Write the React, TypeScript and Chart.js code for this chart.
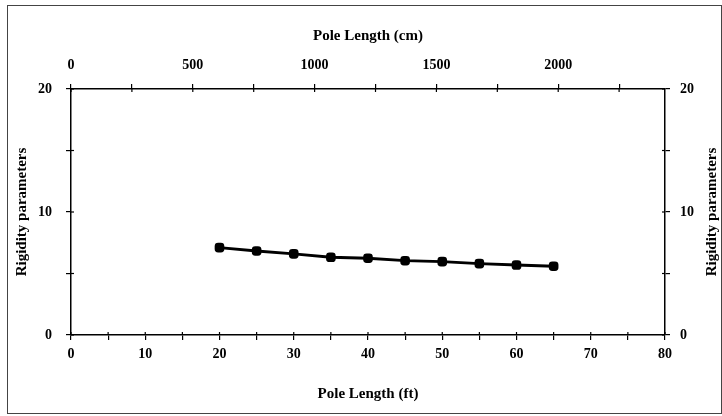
import React, { useEffect, useRef } from "react";
import { Chart, registerables } from "chart.js";

Chart.register(...registerables);

const poleLengthFt = [20, 25, 30, 35, 40, 45, 50, 55, 60, 65];
const rigidity = [7.1, 6.83, 6.59, 6.32, 6.24, 6.04, 5.96, 5.8, 5.69, 5.59];
const cmTicks = [0, 250, 500, 750, 1000, 1250, 1500, 1750, 2000, 2250];
const FT_TO_CM = 30.48;

const xTitle = "Pole Length (ft)";
const x2Title = "Pole Length (cm)";
const yTitle = "Rigidity parameters";

const FONT = '"Liberation Serif", "Times New Roman", serif';

const extras = {
  id: "extras",
  afterDraw(chart: any) {
    const ctx = chart.ctx;
    const { left, right, top, bottom } = chart.chartArea;
    const inner = 3;
    ctx.save();
    ctx.strokeStyle = "#000";
    ctx.lineWidth = 1.2;
    const seg = (a: number, b: number, c: number, d: number) => {
      ctx.beginPath();
      ctx.moveTo(a, b);
      ctx.lineTo(c, d);
      ctx.stroke();
    };
    const xs = chart.scales.x;
    xs.ticks.forEach((t: any) => {
      const p = xs.getPixelForValue(t.value);
      seg(p, bottom, p, bottom - inner);
    });
    const x2 = chart.scales.x2;
    x2.ticks.forEach((t: any) => {
      const p = x2.getPixelForValue(t.value);
      seg(p, top, p, top + inner);
    });
    const ys = chart.scales.y;
    ys.ticks.forEach((t: any) => {
      const p = ys.getPixelForValue(t.value);
      seg(left, p, left + inner, p);
    });
    const y2 = chart.scales.y2;
    y2.ticks.forEach((t: any) => {
      const p = y2.getPixelForValue(t.value);
      seg(right, p, right - inner, p);
    });
    // right axis title (reads bottom to top like the left one)
    ctx.translate(712, (top + bottom) / 2);
    ctx.rotate(-Math.PI / 2);
    ctx.font = `bold 15px ${FONT}`;
    ctx.fillStyle = "#000";
    ctx.textAlign = "center";
    ctx.textBaseline = "middle";
    ctx.fillText(yTitle, 0, 0);
    ctx.restore();
  },
};

export default function App() {
  const ref = useRef<HTMLCanvasElement>(null);

  useEffect(() => {
    if (!ref.current) return;
    const tickFont = { family: FONT, size: 14, weight: "bold" as const };
    const titleFont = { family: FONT, size: 15, weight: "bold" as const };
    const grid = {
      display: true,
      drawOnChartArea: false,
      drawTicks: true,
      tickLength: 5,
      color: "#000",
      lineWidth: 1.2,
    };
    const border = { display: true, color: "#000", width: 1.5 };
    const chart = new Chart(ref.current, {
      type: "line",
      data: {
        datasets: [
          {
            data: poleLengthFt.map((x, i) => ({ x, y: rigidity[i] })),
            borderColor: "#000",
            backgroundColor: "#000",
            borderWidth: 2.8,
            pointStyle: "rectRounded",
            pointRadius: 4,
            tension: 0,
            xAxisID: "x",
            yAxisID: "y",
          },
        ],
      },
      options: {
        responsive: false,
        animation: false,
        devicePixelRatio: 1,
        layout: { padding: 0 },
        plugins: {
          legend: { display: false },
          tooltip: { enabled: false },
        },
        scales: {
          x: {
            type: "linear",
            position: "bottom",
            min: 0,
            max: 80,
            grid,
            border,
            ticks: {
              stepSize: 5,
              autoSkip: false,
              maxRotation: 0,
              padding: 6,
              color: "#000",
              font: tickFont,
              callback: (v: any) => (Number(v) % 10 === 0 ? String(v) : ""),
            },
            title: {
              display: true,
              text: xTitle,
              color: "#000",
              font: titleFont,
              padding: { top: 0, bottom: 13 },
            },
            afterFit: (s: any) => {
              s.height = 81;
            },
          },
          x2: {
            type: "linear",
            position: "top",
            min: 0,
            max: 80,
            grid,
            border,
            afterBuildTicks: (s: any) => {
              s.ticks = cmTicks.map((c) => ({ value: c / FT_TO_CM }));
            },
            ticks: {
              autoSkip: false,
              maxRotation: 0,
              padding: 10,
              color: "#000",
              font: tickFont,
              callback: (v: any) => {
                const cm = Math.round(Number(v) * FT_TO_CM);
                return cm % 500 === 0 ? String(cm) : "";
              },
            },
            title: {
              display: true,
              text: x2Title,
              color: "#000",
              font: titleFont,
              padding: { top: 27, bottom: 0 },
            },
            afterFit: (s: any) => {
              s.height = 89;
            },
          },
          y: {
            type: "linear",
            position: "left",
            min: 0,
            max: 20,
            grid,
            border,
            ticks: {
              stepSize: 5,
              padding: 14,
              color: "#000",
              font: tickFont,
              callback: (v: any) => (Number(v) % 10 === 0 ? String(v) : ""),
            },
            title: {
              display: true,
              text: yTitle,
              color: "#000",
              font: titleFont,
              padding: { top: 13, bottom: 0 },
            },
            afterFit: (s: any) => {
              s.width = 71;
            },
          },
          y2: {
            type: "linear",
            position: "right",
            min: 0,
            max: 20,
            grid,
            border,
            ticks: {
              stepSize: 5,
              padding: 10,
              color: "#000",
              font: tickFont,
              callback: (v: any) => (Number(v) % 10 === 0 ? String(v) : ""),
            },
            afterFit: (s: any) => {
              s.width = 57;
            },
          },
        },
      },
      plugins: [extras],
    });
    return () => chart.destroy();
  }, []);

  return (
    <div
      style={{
        position: "fixed",
        left: 0,
        top: 0,
        width: 722,
        height: 416,
        background: "#fff",
      }}
    >
      <canvas
        ref={ref}
        width={722}
        height={416}
        style={{ display: "block", width: 722, height: 416 }}
      />
      <div
        style={{
          position: "absolute",
          left: 7,
          top: 5,
          width: 713,
          height: 407,
          border: "1px solid #444",
          pointerEvents: "none",
        }}
      />
    </div>
  );
}
